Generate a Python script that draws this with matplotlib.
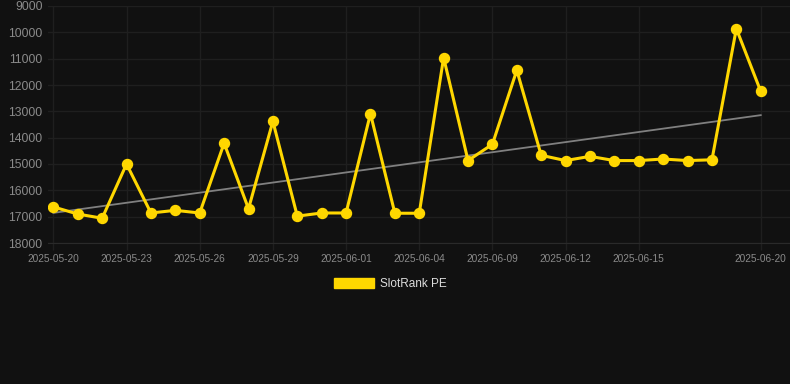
import numpy as np
import matplotlib
matplotlib.use("Agg")
import matplotlib.pyplot as plt
from matplotlib.patches import Patch

# dates as shown on the category axis (two days missing in early June)
dates = ["2025-05-20", "2025-05-21", "2025-05-22", "2025-05-23", "2025-05-24",
         "2025-05-25", "2025-05-26", "2025-05-27", "2025-05-28", "2025-05-29",
         "2025-05-30", "2025-05-31", "2025-06-01", "2025-06-02", "2025-06-03",
         "2025-06-04", "2025-06-05", "2025-06-07", "2025-06-09", "2025-06-10",
         "2025-06-11", "2025-06-12", "2025-06-13", "2025-06-14", "2025-06-15",
         "2025-06-16", "2025-06-17", "2025-06-18", "2025-06-19", "2025-06-20"]

rank = [16630, 16900, 17060, 15000, 16860, 16760, 16860, 14210, 16700, 13380,
        16980, 16860, 16860, 13090, 16870, 16870, 10960, 14870, 14250, 11440,
        14670, 14870, 14710, 14870, 14870, 14810, 14870, 14840, 9860, 12240]

shownTicks = [0, 3, 6, 9, 12, 15, 18, 21, 24, 29]
yTicks = [9000, 10000, 11000, 12000, 13000, 14000, 15000, 16000, 17000, 18000]

bg = "#111111"
gold = "#FFD700"
gridCol = "#1f1f1f"
textCol = "#8a8a8a"

plt.rcParams["font.family"] = ["Liberation Sans", "DejaVu Sans"]

fig = plt.figure(figsize=(7.9, 3.84), dpi=100, facecolor=bg)
ax = fig.add_axes([48/790, 1-243/384, 1-48/790, 237/384])
ax.set_facecolor(bg)

x = np.arange(len(rank))
ax.plot(x, rank, color=gold, lw=2.2, marker="o", ms=7.2, zorder=3)

# linear trend
k, b = np.polyfit(x, rank, 1)
ax.plot(x, k*x+b, color="#808080", lw=1.3, zorder=2)

ax.set_ylim(18000, 9000)
ax.set_xlim(-0.22, 30.2)
ax.set_yticks(yTicks)
ax.set_xticks(shownTicks)
ax.set_xticklabels([dates[i] for i in shownTicks])

ax.grid(True, color=gridCol, lw=1)
ax.set_axisbelow(True)
for s in ["top", "right", "left"]:
    ax.spines[s].set_visible(False)
ax.spines["bottom"].set_color("#2a2a2a")

ax.tick_params(axis="y", length=0, pad=4, labelsize=8.8, labelcolor=textCol)
ax.tick_params(axis="x", length=5, width=1, color=gridCol, pad=3,
               labelsize=7.3, labelcolor=textCol)

fig.legend(handles=[Patch(color=gold)], labels=["SlotRank PE"],
           loc="center", bbox_to_anchor=(390/790, 1-284/384), frameon=False,
           handlelength=3.4, handleheight=1.0, handletextpad=0.5,
           fontsize=8.5, labelcolor="#dddddd")

fig.savefig("out.png", dpi=100, facecolor=bg)
